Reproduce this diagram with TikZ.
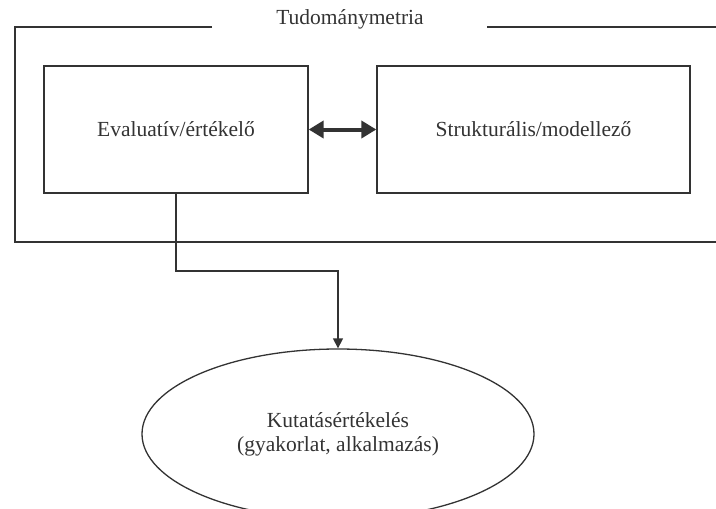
\documentclass[tikz,border=0pt]{standalone}
\usepackage{fontspec}
\setmainfont{Liberation Serif}
\usetikzlibrary{shapes.geometric,arrows.meta}
\definecolor{ink}{HTML}{333333}
\begin{document}
\begin{tikzpicture}[x=1pt,y=-1pt,
  line/.style={draw=ink,line width=1.3pt},
  lbl/.style={font=\fontsize{21.5}{24}\selectfont,text=ink},
  boxnode/.style={line,rectangle,minimum height=127pt,inner sep=0pt,lbl}]
\useasboundingbox (0,0) rectangle (716,509);
\node[lbl] (title) at (350,19) {Tudománymetria};
\coordinate (tl) at (212,27);
\coordinate (tr) at (487,27);
\draw[line] (tl) -- (15,27) -- (15,242) -- (716,242);
\draw[line] (tr) -- (716,27);
\node[boxnode,minimum width=264pt] (eval) at (176,129.5) {Evaluatív/értékelő};
\node[boxnode,minimum width=313pt] (strukt) at (533.5,129.5) {Strukturális/modellező};
\draw[draw=ink,line width=4pt,{Triangle[length=15pt,width=17pt]}-{Triangle[length=15pt,width=17pt]}] (eval.east) -- (strukt.west);
\node[line,ellipse,minimum width=392pt,minimum height=170pt,inner sep=0pt,lbl,align=center] (kut) at (338,434) {Kutatásértékelés\\(gyakorlat, alkalmazás)};
\coordinate (bend) at (338,271);
\draw[line,-{Triangle[length=10pt,width=10pt]}] (eval.south) |- (bend) -- (kut.north);
\end{tikzpicture}
\end{document}
